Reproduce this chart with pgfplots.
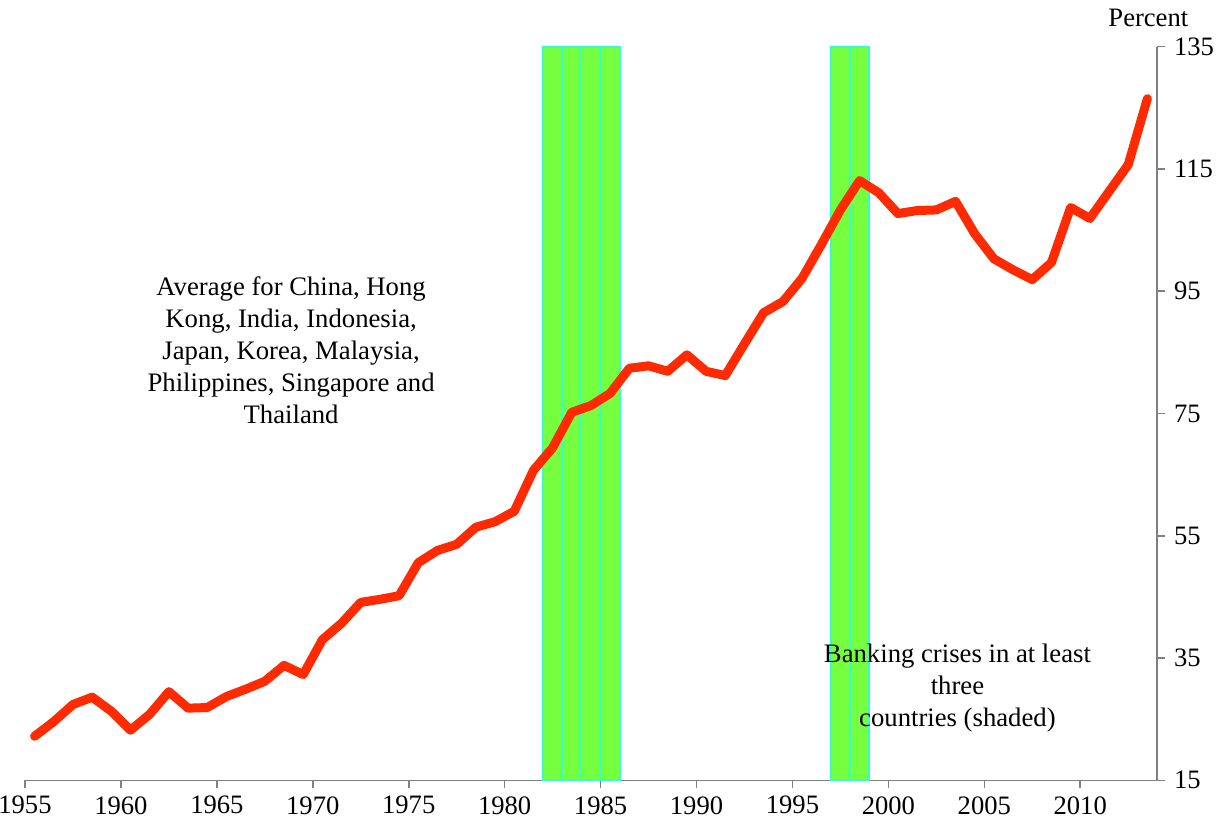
\documentclass[border=0pt]{standalone}
\usepackage{pgfplots}
\pgfplotsset{compat=1.18}
\usepackage{fontspec}
\setmainfont{Liberation Serif}
\definecolor{linered}{HTML}{FF2A00}
\definecolor{barfill}{HTML}{76FF3E}
\definecolor{baredge}{HTML}{33FFCC}
\definecolor{axgray}{HTML}{808080}
\begin{document}
\begin{tikzpicture}
\begin{axis}[
  scale only axis,
  width=566bp, height=366.8bp,
  xmin=1955, xmax=2014,
  ymin=15, ymax=135,
  axis x line*=bottom,
  axis y line*=right,
  axis line style={axgray, line width=0.8pt},
  every tick/.style={axgray, line width=0.8pt},
  tick align=outside,
  major tick length=4bp,
  xtick={1955,1960,...,2010},
  xticklabels={1955,1960,1965,1970,1975,1980,1985,1990,1995,2000,2005,2010},
  ytick={15,35,55,75,95,115,135},
  yticklabels={15,35,55,75,95,115,135},
  minor tick num=0,
  ticklabel style={font=\rmfamily\fontsize{13.3bp}{15bp}\selectfont},
  xticklabel style={yshift=-0.5bp},
  yticklabel style={xshift=1bp},
  clip=false,
]
\addplot[ybar interval, fill=barfill, draw=baredge, line width=1bp]
  coordinates {(1982,135)(1983,135)(1984,135)(1985,135)(1986,135)};
\addplot[ybar interval, fill=barfill, draw=baredge, line width=1bp]
  coordinates {(1997,135)(1998,135)(1999,135)};
\addplot[linered, line width=4.5bp, line join=round, line cap=round, mark=none] table {
x y
1955.5 22.2
1956.5 24.6
1957.5 27.4
1958.5 28.6
1959.5 26.3
1960.5 23.2
1961.5 25.8
1962.5 29.5
1963.5 26.8
1964.5 26.9
1965.5 28.7
1966.5 29.9
1967.5 31.2
1968.5 33.8
1969.5 32.3
1970.5 38.0
1971.5 40.7
1972.5 44.1
1973.5 44.6
1974.5 45.2
1975.5 50.6
1976.5 52.6
1977.5 53.6
1978.5 56.4
1979.5 57.3
1980.5 59.0
1981.5 65.7
1982.5 69.4
1983.5 75.2
1984.5 76.3
1985.5 78.3
1986.5 82.4
1987.5 82.8
1988.5 81.9
1989.5 84.6
1990.5 81.9
1991.5 81.2
1992.5 86.4
1993.5 91.5
1994.5 93.3
1995.5 97.1
1996.5 102.6
1997.5 108.3
1998.5 113.1
1999.5 111.1
2000.5 107.7
2001.5 108.2
2002.5 108.3
2003.5 109.7
2004.5 104.4
2005.5 100.3
2006.5 98.5
2007.5 96.9
2008.5 99.7
2009.5 108.7
2010.5 106.9
2011.5 111.3
2012.5 115.7
2013.5 126.5
};
\node[align=center, font=\fontsize{13.35bp}{16bp}\selectfont] at (axis cs:1968.87,85.4)
  {Average for China, Hong\\Kong, India, Indonesia,\\Japan, Korea, Malaysia,\\Philippines, Singapore and\\Thailand};
\node[align=center, font=\fontsize{13.35bp}{16bp}\selectfont] at (axis cs:2003.6,30.1)
  {Banking crises in at least\\three\\ countries (shaded)};
\node[font=\fontsize{13.3bp}{15bp}\selectfont] at (axis cs:2013.55,139.7) {Percent};
\end{axis}
\pgfresetboundingbox
\path[use as bounding box] (-12.5bp,-24.35bp) rectangle (601.5bp,390.15bp);
\end{tikzpicture}
\end{document}
